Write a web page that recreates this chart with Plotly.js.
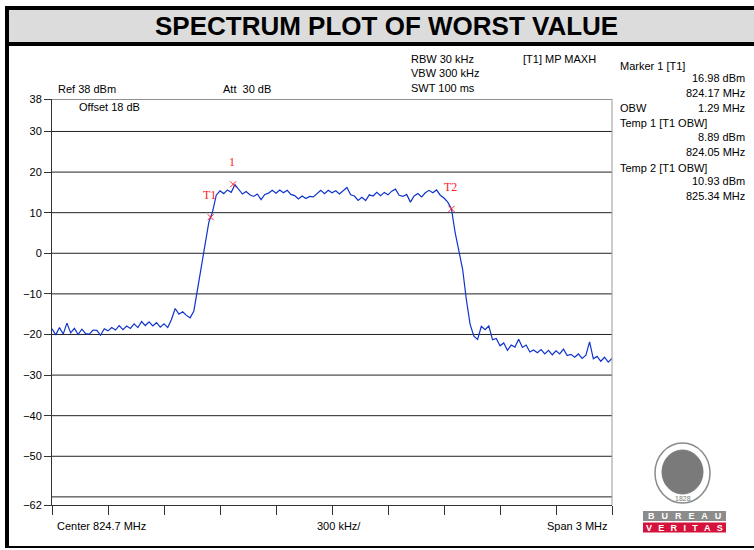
<!DOCTYPE html>
<html>
<head>
<meta charset="utf-8">
<script src="https://cdn.plot.ly/plotly-3.0.1.min.js"></script>
<style>html,body{margin:0;padding:0;background:#fff;}#chart{width:754px;height:550px;}</style>
</head>
<body>
<div id="chart"></div>
<script>
// ---- data ----
const freqMHz = [
823.20,823.22,823.24,823.26,823.28,823.30,823.32,823.34,823.36,823.38,
823.40,823.42,823.44,823.46,823.48,823.50,823.52,823.54,823.56,823.58,
823.60,823.62,823.64,823.66,823.68,823.70,823.72,823.74,823.76,823.78,
823.80,823.82,823.84,823.86,823.88,823.90,823.92,823.94,823.96,823.98,
824.00,824.02,824.04,824.06,824.08,824.10,824.12,824.14,824.16,824.18,
824.20,824.22,824.24,824.26,824.28,824.30,824.32,824.34,824.36,824.38,
824.40,824.42,824.44,824.46,824.48,824.50,824.52,824.54,824.56,824.58,
824.60,824.62,824.64,824.66,824.68,824.70,824.72,824.74,824.76,824.78,
824.80,824.82,824.84,824.86,824.88,824.90,824.92,824.94,824.96,824.98,
825.00,825.02,825.04,825.06,825.08,825.10,825.12,825.14,825.16,825.18,
825.20,825.22,825.24,825.26,825.28,825.30,825.32,825.34,825.36,825.38,
825.40,825.42,825.44,825.46,825.48,825.50,825.52,825.54,825.56,825.58,
825.60,825.62,825.64,825.66,825.68,825.70,825.72,825.74,825.76,825.78,
825.80,825.82,825.84,825.86,825.88,825.90,825.92,825.94,825.96,825.98,
826.00,826.02,826.04,826.06,826.08,826.10,826.12,826.14,826.16,826.18,
826.20
];
const levelDBm = [
-18.6,-20.1,-18.3,-19.9,-17.2,-19.6,-18.5,-20.0,-18.7,-19.8,
-19.9,-18.9,-19.0,-20.2,-18.6,-19.1,-18.3,-18.9,-17.8,-18.8,
-17.9,-18.5,-17.4,-18.3,-16.8,-17.8,-16.9,-17.9,-17.1,-18.2,
-17.4,-18.3,-16.3,-13.6,-15.0,-14.4,-15.3,-15.9,-14.2,-8.5,
-3.5,2.0,7.6,10.2,14.3,15.4,14.7,15.6,15.0,16.9,
15.6,14.6,15.2,14.4,14.0,14.6,13.2,14.5,14.8,15.5,
14.8,15.6,14.9,15.5,14.5,14.2,13.4,14.1,13.5,14.0,
13.9,14.8,15.5,14.7,15.5,14.9,15.4,14.6,15.3,16.2,
14.4,14.1,13.0,13.8,13.0,14.4,14.1,15.0,14.2,15.0,
14.4,15.3,15.8,14.3,14.0,14.5,12.6,14.1,14.7,13.9,
14.9,15.5,14.9,15.6,14.3,13.6,12.6,10.9,5.0,0.8,
-4.0,-11.5,-17.5,-20.4,-21.2,-18.0,-18.8,-17.9,-21.3,-21.0,
-22.8,-22.1,-23.9,-22.6,-23.1,-21.2,-23.2,-22.6,-24.3,-23.8,
-24.5,-23.7,-24.8,-23.9,-25.0,-24.0,-24.8,-23.6,-25.2,-24.9,
-25.6,-24.8,-25.9,-25.1,-21.8,-26.0,-25.4,-26.6,-25.6,-26.8,
-25.9
];
const markerFreq  = [824.17, 824.05, 825.34];
const markerLevel = [16.98, 8.89, 10.93];
const markerLabel = ['1', 'T1', 'T2'];

const xTickVals = [823.2,823.5,823.8,824.1,824.4,824.7,825.0,825.3,825.6,825.9,826.2];
const yTickVals = [38,30,20,10,0,-10,-20,-30,-40,-50,-62];
const yTickText = ['38','30','20','10','0','\u221210','\u221220','\u221230','\u221240','\u221250','\u221262'];
const gridLevels = [30,20,10,0,-10,-20,-30,-40,-50,-60];

// ---- geometry helpers (pixel -> paper) ----
const W = 754, H = 550, L = 52, R = 612, T = 99, B = 505;
const px = v => (v - L) / (R - L);
const py = v => (B - v) / (B - T);

const FONT = 'Liberation Sans, Arial, sans-serif';
const txt = (s, x, y, anchor, extra) => Object.assign({
  text: s, xref: 'paper', yref: 'paper', x: px(x), y: py(y),
  xanchor: anchor || 'left', yanchor: 'middle', showarrow: false,
  font: {family: FONT, size: 11, color: '#000'}
}, extra || {});

const annotations = [
  txt('SPECTRUM PLOT OF WORST VALUE', 386, 26, 'center', {font: {family: FONT, size: 26, color: '#000', weight: 'bold'}}),
  txt('Ref 38 dBm', 56, 89),
  txt('Att\u00a0 30 dB', 221, 89),
  txt('Offset 18 dB', 77, 107),
  txt('RBW 30 kHz', 409, 59),
  txt('VBW 300 kHz', 409, 73),
  txt('SWT 100 ms', 409, 88),
  txt('[T1] MP MAXH', 521, 59),
  txt('Marker 1 [T1]', 618, 66),
  txt('16.98 dBm', 747, 78, 'right'),
  txt('824.17 MHz', 747, 93, 'right'),
  txt('OBW', 618, 108),
  txt('1.29 MHz', 747, 108, 'right'),
  txt('Temp 1 [T1 OBW]', 618, 123),
  txt('8.89 dBm', 747, 137, 'right'),
  txt('824.05 MHz', 747, 152, 'right'),
  txt('Temp 2 [T1 OBW]', 618, 168),
  txt('10.93 dBm', 747, 181, 'right'),
  txt('825.34 MHz', 747, 196, 'right'),
  txt('Center 824.7 MHz', 55, 526),
  txt('300 kHz/', 339, 526, 'center'),
  txt('Span 3 MHz', 610, 526, 'right'),
  // logo texts
  txt('1828', 682.5, 498, 'center', {font: {family: FONT, size: 7, color: '#777'}}),
  txt('B\u2002 U\u2002 R\u2002 E\u2002 A\u2002 U', 684.5, 516, 'center', {font: {family: FONT, size: 9, color: '#fff', weight: 'bold'}}),
  txt('V\u2002\u2009E\u2002\u2009R\u2002\u2009I\u2002\u2009T\u2002\u2009A\u2002\u2009S', 684.5, 527.5, 'center', {font: {family: FONT, size: 9, color: '#fff', weight: 'bold'}})
];
// marker labels
for (let i = 0; i < markerFreq.length; i++) {
  annotations.push({
    text: markerLabel[i], xref: 'x', yref: 'y', x: markerFreq[i], y: markerLevel[i],
    xanchor: 'center', yanchor: 'middle', yshift: 22, xshift: -1, showarrow: false,
    font: {family: 'Liberation Serif, Times New Roman, serif', size: 12, color: '#ff2020'}
  });
}

const rectPx = (x0, y0, x1, y1, fill, line) => ({
  type: 'rect', xref: 'paper', yref: 'paper', x0: px(x0), x1: px(x1), y0: py(y0), y1: py(y1),
  fillcolor: fill, line: line || {width: 0}, layer: 'below'
});
const shapes = [
  // frame
  rectPx(5, 6, 754, 10, '#000'),
  rectPx(9, 10, 754, 42, '#dcdcdc'),
  rectPx(5, 42, 754, 46, '#000'),
  rectPx(5, 6, 9, 548, '#000'),
  rectPx(5, 546, 754, 548, '#000'),
  // logo
  {type: 'circle', xref: 'paper', yref: 'paper', x0: px(655), x1: px(710), y0: py(443), y1: py(503),
   fillcolor: '#fff', line: {color: '#8a8a8a', width: 1.5}},
  {type: 'circle', xref: 'paper', yref: 'paper', x0: px(662), x1: px(703), y0: py(450), y1: py(494),
   fillcolor: '#7a7a7a', line: {color: '#7a7a7a', width: 1}},
  {type: 'rect', xref: 'paper', yref: 'paper', x0: px(643), x1: px(726), y0: py(511), y1: py(521),
   fillcolor: '#8c8c8c', line: {width: 0}},
  {type: 'rect', xref: 'paper', yref: 'paper', x0: px(643), x1: px(726), y0: py(522.5), y1: py(532.5),
   fillcolor: '#d5123b', line: {width: 0}},
  // top border and right border of plot box
  {type: 'line', xref: 'paper', yref: 'y', x0: 0, x1: 1, y0: 38, y1: 38, line: {color: '#222', width: 1}},
  {type: 'line', xref: 'paper', yref: 'y', x0: 1, x1: 1, y0: -62, y1: 38, line: {color: '#999', width: 1}}
];
gridLevels.forEach(g => shapes.push({
  type: 'line', xref: 'paper', yref: 'y', x0: 0, x1: 1, y0: g, y1: g,
  line: {color: '#222', width: 1}, layer: 'below'
}));

const traces = [
  {x: freqMHz, y: levelDBm, type: 'scatter', mode: 'lines',
   line: {color: '#0f33cc', width: 1.2}, hoverinfo: 'skip'},
  {x: markerFreq, y: markerLevel, type: 'scatter', mode: 'markers',
   marker: {symbol: 'x-thin', size: 6, color: '#ff2020', line: {color: '#ff2020', width: 1}}, hoverinfo: 'skip'}
];

const layout = {
  width: W, height: H,
  margin: {l: L, r: W - R, t: T, b: H - B, pad: 0},
  paper_bgcolor: '#fff', plot_bgcolor: '#fff',
  showlegend: false,
  font: {family: FONT, size: 11, color: '#000'},
  xaxis: {range: [823.2, 826.2], tickmode: 'array', tickvals: xTickVals, showticklabels: false,
          ticks: 'outside', ticklen: 9, tickwidth: 1, tickcolor: '#333',
          showgrid: false, zeroline: false, showline: true, linecolor: '#333', linewidth: 1, fixedrange: true},
  yaxis: {range: [-62, 38], tickmode: 'array', tickvals: yTickVals, ticktext: yTickText,
          ticks: 'outside', ticklen: 7, tickwidth: 1, tickcolor: '#333',
          tickfont: {family: FONT, size: 11, color: '#000'},
          showgrid: false, zeroline: false, showline: true, linecolor: '#333', linewidth: 1, fixedrange: true},
  shapes: shapes,
  annotations: annotations
};

Plotly.newPlot('chart', traces, layout, {displayModeBar: false, staticPlot: true});
</script>
</body>
</html>
